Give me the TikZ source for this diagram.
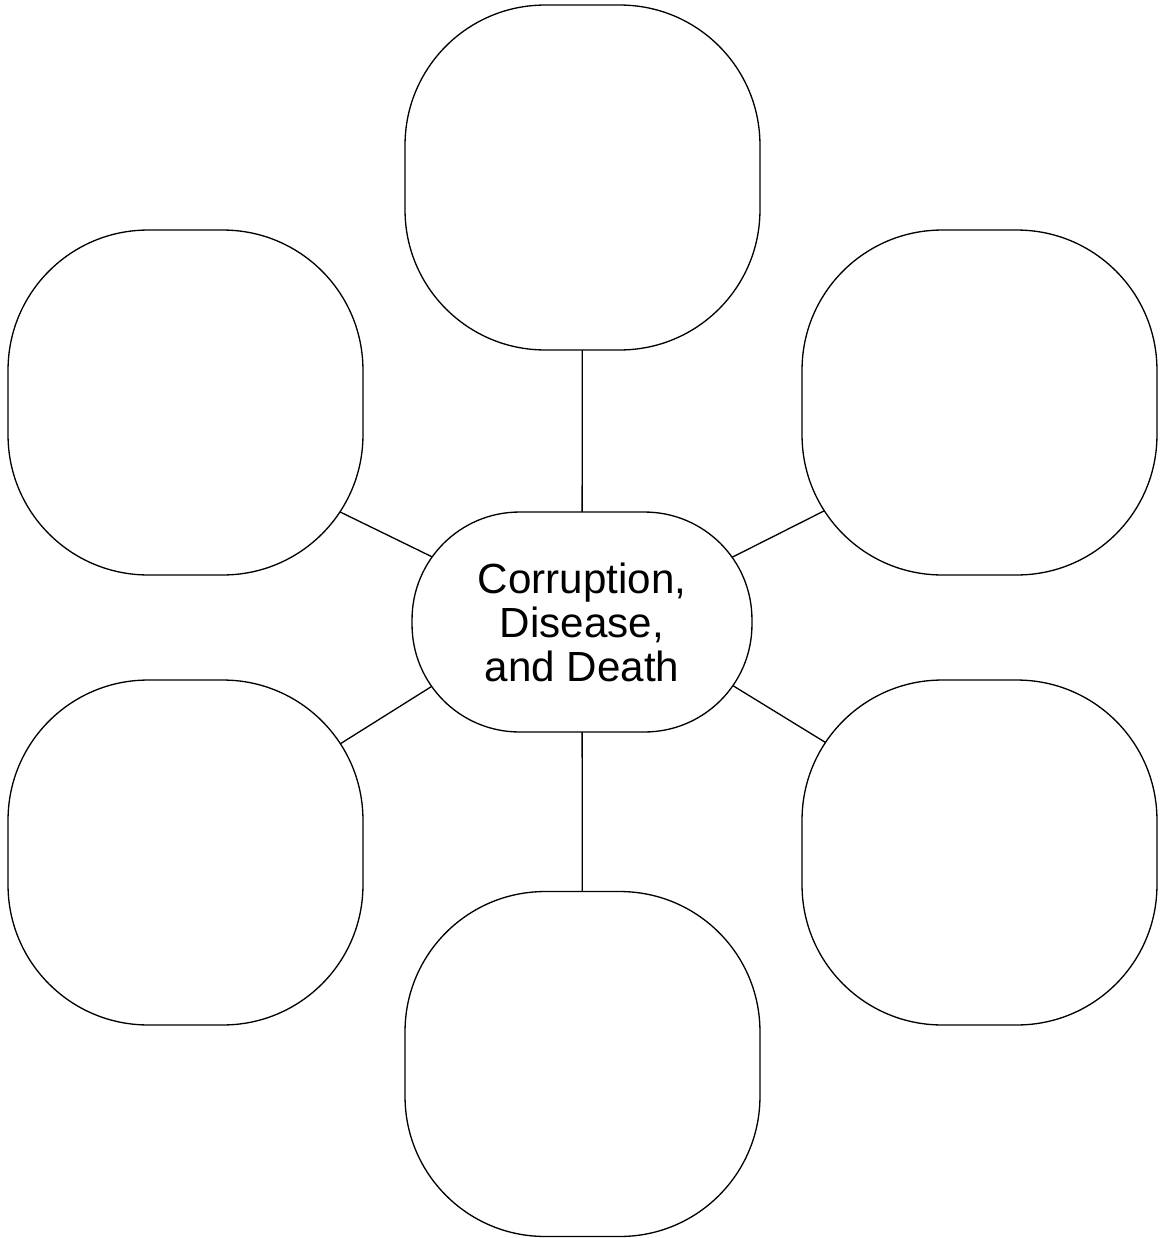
\documentclass[tikz,border=0pt]{standalone}
\usepackage{fontspec}
\setmainfont{Liberation Sans}
\usetikzlibrary{backgrounds, calc}

\begin{document}
\begin{tikzpicture}[x=0.02cm, y=-0.02cm, line width=0.75pt,
    idea/.style={draw, fill=white, minimum width=7.1cm, minimum height=6.9cm, rounded corners=2.8cm},
    hub/.style={draw, fill=white, minimum width=6.8cm, minimum height=4.4cm, rounded corners=2.15cm,
      align=center, font=\fontsize{24}{25}\selectfont},
    spoke/.style={line width=0.75pt}]
    \useasboundingbox (0,0) rectangle (1161,1238);
    \node[hub] (mid) at (582,622) {Corruption,\\Disease,\\and Death};
    \foreach \n/\x/\y in {top/582.5/177.5, lu/185.5/402.5, ru/979.5/402.5,
        ll/185.5/852.5, rl/979.5/852.5, bot/582.5/1064} {
      \node[idea] (\n) at (\x,\y) {};
    }
    \begin{scope}[on background layer]
      \foreach \n/\s/\t in {top/0/0, bot/0/0, lu/8/34, ru/11/30, ll/-30/-11.5, rl/-29/-15.5} {
        \draw[spoke] ($(mid)+(0,\s)$) -- ($(\n)+(0,\t)$);
      }
    \end{scope}
  \end{tikzpicture}
\end{document}
